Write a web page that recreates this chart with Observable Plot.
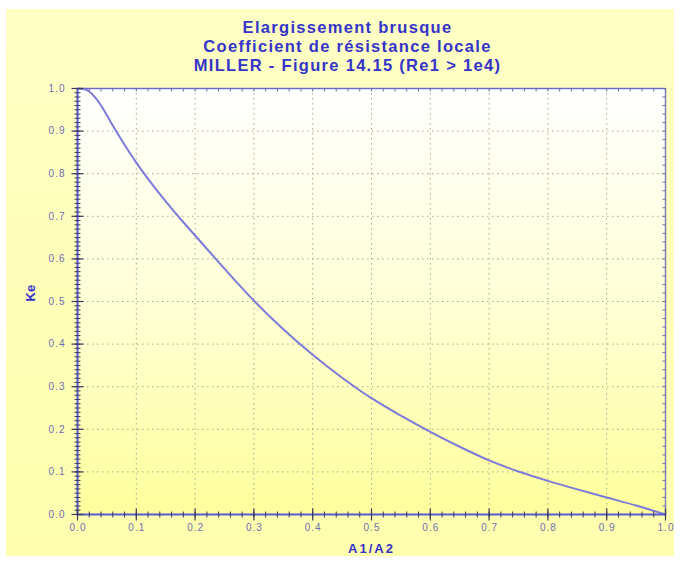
<!DOCTYPE html>
<html><head><meta charset="utf-8">
<script src="https://cdn.jsdelivr.net/npm/d3@7"></script>
<script src="https://cdn.jsdelivr.net/npm/@observablehq/plot@0.6"></script>
<style>
html,body{margin:0;padding:0;background:#fff;}
#wrap{position:relative;width:681px;height:562px;overflow:hidden;}
#panel{position:absolute;left:6px;top:9px;width:668px;height:547px;background:linear-gradient(#ffffc6,#ffffae);}
#chart{position:absolute;left:0;top:0;}
</style></head><body>
<div id="wrap"><div id="panel"></div><div id="chart"></div></div>
<script>
// ---- data ----
const titleLines = ["Elargissement brusque", "Coefficient de résistance locale", "MILLER - Figure 14.15 (Re1 > 1e4)"];
const xAxisLabel = "A1/A2";
const yAxisLabel = "Ke";
const ratio = [0, 0.01, 0.02, 0.03, 0.04, 0.05, 0.06, 0.08, 0.10, 0.12, 0.15, 0.18, 0.20, 0.25, 0.30, 0.35, 0.40, 0.45, 0.50, 0.55, 0.60, 0.65, 0.70, 0.75, 0.80, 0.85, 0.90, 0.95, 1.00];
const ke    = [1.000, 0.999, 0.993, 0.979, 0.960, 0.937, 0.913, 0.868, 0.826, 0.788, 0.735, 0.686, 0.655, 0.577, 0.502, 0.435, 0.375, 0.321, 0.273, 0.232, 0.194, 0.159, 0.127, 0.101, 0.079, 0.059, 0.040, 0.021, 0.000];
const xTicks = [0, 0.1, 0.2, 0.3, 0.4, 0.5, 0.6, 0.7, 0.8, 0.9, 1.0];
const xTickLabels = ["0.0","0.1","0.2","0.3","0.4","0.5","0.6","0.7","0.8","0.9","1.0"];
const yTicks = [0, 0.1, 0.2, 0.3, 0.4, 0.5, 0.6, 0.7, 0.8, 0.9, 1.0];
const yTickLabels = ["0.0","0.1","0.2","0.3","0.4","0.5","0.6","0.7","0.8","0.9","1.0"];
const xMinorStep = 0.02;
const yMinorStep = 0.01;

// ---- build ----
const data = ratio.map((r, i) => ({r, k: ke[i]}));
const xMinor = d3.range(0, 50 + 1).map(i => i * xMinorStep);
const yMinor = d3.range(0, 100 + 1).map(i => i * yMinorStep);

const vCross = {draw(ctx, size){const r = Math.sqrt(size/Math.PI); ctx.moveTo(0,-r); ctx.lineTo(0,r);}};
const hCross = {draw(ctx, size){const r = Math.sqrt(size/Math.PI); ctx.moveTo(-r,0); ctx.lineTo(r,0);}};
const vDown  = {draw(ctx, size){const r = Math.sqrt(size/Math.PI); ctx.moveTo(0,0); ctx.lineTo(0,r);}};
const hLeft  = {draw(ctx, size){const r = Math.sqrt(size/Math.PI); ctx.moveTo(0,0); ctx.lineTo(-r,0);}};

const font = "Liberation Sans, Arial, sans-serif";
const titleColor = "#3434c8";
const tickLabelColor = "#6e6eb2";
const tickColor = "#3a3a5a";

const plot = Plot.plot({
  width: 681, height: 562,
  marginLeft: 77, marginRight: 16, marginTop: 88, marginBottom: 48,
  style: {background: "transparent", fontFamily: font, overflow: "visible"},
  x: {domain: [0, 1], axis: null},
  y: {domain: [0, 1], axis: null},
  marks: [
    Plot.frame({fill: "url(#plotbg)", stroke: "none"}),
    Plot.gridX(xTicks.slice(1, -1), {stroke: "#a9a990", strokeOpacity: 1, strokeDasharray: "1.5,3.5", strokeWidth: 1}),
    Plot.gridY(yTicks.slice(1, -1), {stroke: "#a9a990", strokeOpacity: 1, strokeDasharray: "1.5,3.5", strokeWidth: 1}),
    // top / right borders
    Plot.ruleY([1], {stroke: "#6c6cc8", strokeWidth: 1.5}),
    Plot.ruleX([1], {stroke: "#8080b8", strokeWidth: 1.5}),
    // inward ticks on top and right
    Plot.dot(xMinor, {x: d => d, frameAnchor: "top", symbol: vDown, r: 3, fill: "none", stroke: "#6a6aa8", strokeWidth: 1}),
    Plot.dot(yMinor.filter((d, i) => i % 2 === 0), {y: d => d, frameAnchor: "right", symbol: hLeft, r: 3, fill: "none", stroke: "#6a6aa8", strokeWidth: 1}),
    // curve
    Plot.line(data, {x: "r", y: "k", stroke: "#7c7cd8", strokeWidth: 2, curve: "monotone-x"}),
    // left / bottom axes
    Plot.ruleY([0], {stroke: "#5a5ad2", strokeWidth: 2}),
    Plot.ruleX([0], {stroke: "#5a5ad2", strokeWidth: 2}),
    Plot.dot(xMinor, {x: d => d, frameAnchor: "bottom", symbol: vCross, r: 3, fill: "none", stroke: tickColor, strokeWidth: 1}),
    Plot.dot(xTicks, {x: d => d, frameAnchor: "bottom", symbol: vCross, r: 6, fill: "none", stroke: tickColor, strokeWidth: 1.2}),
    Plot.dot(yMinor, {y: d => d, frameAnchor: "left", symbol: hCross, r: 3, fill: "none", stroke: tickColor, strokeWidth: 1}),
    Plot.dot(yTicks, {y: d => d, frameAnchor: "left", symbol: hCross, r: 6, fill: "none", stroke: tickColor, strokeWidth: 1.2}),
    // tick labels
    Plot.text(xTicks, {x: d => d, text: (d, i) => xTickLabels[i], frameAnchor: "bottom", lineAnchor: "middle", dy: 13, dx: 0.5, fontSize: 10, fill: tickLabelColor, fontFamily: font}),
    Plot.text(yTicks, {y: d => d, text: (d, i) => yTickLabels[i], frameAnchor: "left", lineAnchor: "middle", textAnchor: "end", dx: -12, fontSize: 10, fill: tickLabelColor, fontFamily: font}),
    // axis labels
    Plot.text([xAxisLabel], {frameAnchor: "bottom", lineAnchor: "middle", dy: 34, fontSize: 13, fontWeight: "bold", fill: titleColor, fontFamily: font}),
    Plot.text([yAxisLabel], {frameAnchor: "left", lineAnchor: "middle", dx: -47, rotate: -90, fontSize: 13, fontWeight: "bold", fill: titleColor, fontFamily: font}),
    // title
    Plot.text([titleLines[0]], {frameAnchor: "top-left", lineAnchor: "middle", textAnchor: "middle", dx: 270, dy: -61, fontSize: 16.5, fontWeight: "bold", fill: titleColor, fontFamily: font}),
    Plot.text([titleLines[1]], {frameAnchor: "top-left", lineAnchor: "middle", textAnchor: "middle", dx: 270, dy: -42, fontSize: 16.5, fontWeight: "bold", fill: titleColor, fontFamily: font}),
    Plot.text([titleLines[2]], {frameAnchor: "top-left", lineAnchor: "middle", textAnchor: "middle", dx: 270, dy: -23, fontSize: 16.5, fontWeight: "bold", fill: titleColor, fontFamily: font})
  ]
});

const svg = plot.tagName.toLowerCase() === "svg" ? plot : plot.querySelector("svg");
const ns = "http://www.w3.org/2000/svg";
const defs = document.createElementNS(ns, "defs");
defs.innerHTML = '<linearGradient id="plotbg" x1="0" y1="0" x2="0" y2="1"><stop offset="0" stop-color="#ffffff"/><stop offset="0.5" stop-color="#ffffd6"/><stop offset="1" stop-color="#ffff9c"/></linearGradient>';
svg.insertBefore(defs, svg.firstChild);
// widen lettering as in the reference
svg.querySelectorAll("text").forEach(t => {
  const s = t.textContent;
  if (titleLines.includes(s)) t.style.letterSpacing = "1.3px";
  else if (s === xAxisLabel) t.style.letterSpacing = "2px";
  else if (xTickLabels.includes(s) || yTickLabels.includes(s)) t.style.letterSpacing = "1px";
});
document.getElementById("chart").appendChild(plot);
</script>
</body></html>
